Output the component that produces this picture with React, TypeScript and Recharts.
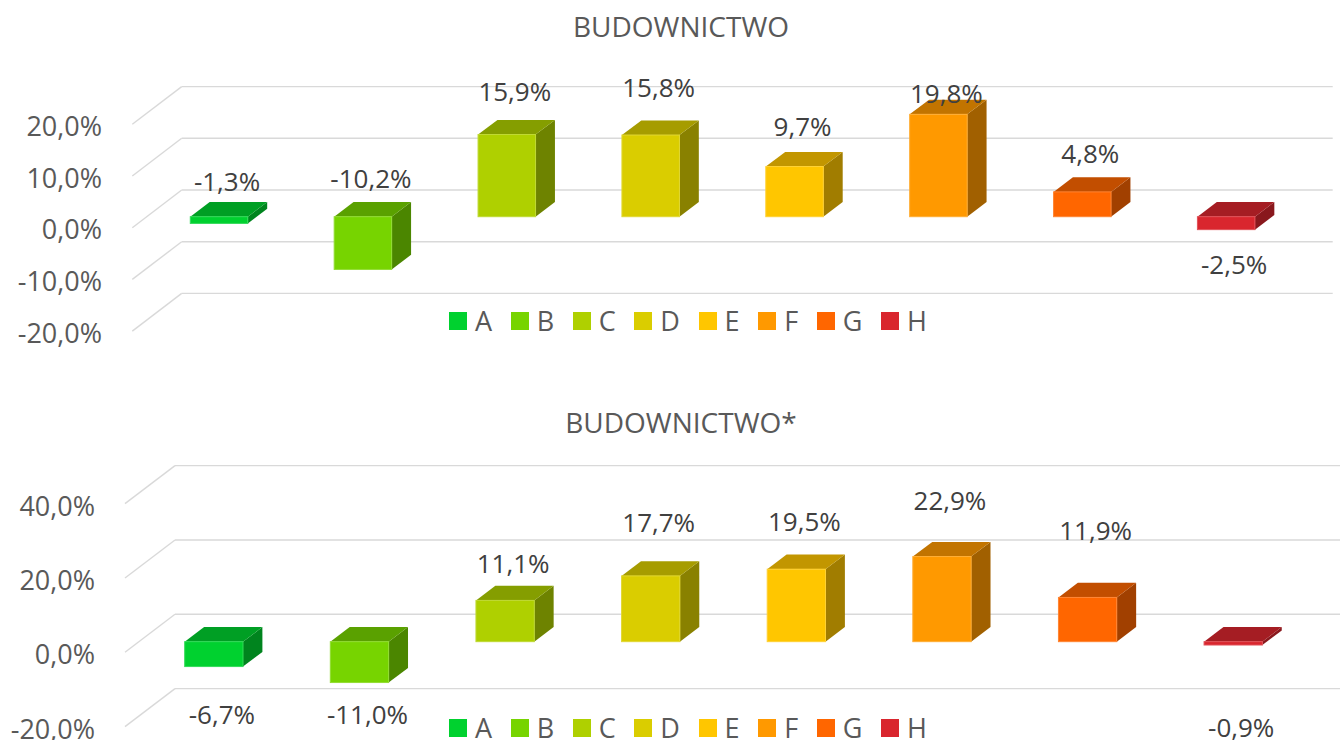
import React from "react";
import { Bar, BarChart, CartesianGrid, Cell, LabelList, Legend, XAxis, YAxis } from "recharts";

const categories = ["A", "B", "C", "D", "E", "F", "G", "H"];
const colors = ["#00D12F", "#77D400", "#AFD000", "#DACD00", "#FFC600", "#FF9900", "#FF6600", "#D9262E"];

const budownictwo = [-1.3, -10.2, 15.9, 15.8, 9.7, 19.8, 4.8, -2.5];
const budownictwoStar = [-6.7, -11.0, 11.1, 17.7, 19.5, 22.9, 11.9, -0.9];

const ticksTop = [-20, -10, 0, 10, 20];
const ticksBottom = [-20, 0, 20, 40];

const FONT = '"Open Sans", "Noto Sans", sans-serif';
const GRID = "#D9D9D9";
const TEXT = "#595959";
const LABEL = "#404040";
const DEPTH_X = 19.4;
const DEPTH_Y = 14.6;

function rgb(hex: string) {
  const n = parseInt(hex.slice(1), 16);
  return [(n >> 16) & 255, (n >> 8) & 255, n & 255];
}
function shade(hex: string, k: number) {
  const [r, g, b] = rgb(hex);
  return `rgb(${Math.round(r * k)},${Math.round(g * k)},${Math.round(b * k)})`;
}
function lighten(hex: string, t: number) {
  const [r, g, b] = rgb(hex);
  const f = (c: number) => Math.round(c + (255 - c) * t);
  return `rgb(${f(r)},${f(g)},${f(b)})`;
}

function Bar3D(props: any) {
  const { x, y, width, height, fill } = props;
  if (x == null || y == null) return null;
  const top = Math.min(y, y + height);
  const h = Math.abs(height);
  const w = width;
  const dx = DEPTH_X;
  const dy = DEPTH_Y;
  const topFace = `${x},${top} ${x + dx},${top - dy} ${x + w + dx},${top - dy} ${x + w},${top}`;
  const side = `${x + w},${top} ${x + w + dx},${top - dy} ${x + w + dx},${top + h - dy} ${x + w},${top + h}`;
  return (
    <g>
      <polygon points={side} fill={shade(fill, 0.63)} />
      <polygon points={topFace} fill={shade(fill, 0.76)} />
      <rect x={x} y={top} width={w} height={h} fill={fill} stroke={lighten(fill, 0.2)} strokeWidth={1} />
    </g>
  );
}

interface PanelProps {
  values: number[];
  ticks: number[];
  height: number;
  margin: { top: number; right: number; bottom: number; left: number };
  axisWidth: number;
  barSize: number;
  wall: [number, number];
  floor: [number, number];
  tickRight: number;
  labelShift: number[];
  legendTop: number;
}

function Panel(p: PanelProps) {
  const data = categories.map((name, i) => ({ name, v: p.values[i] }));
  const fmt = (v: number) => `${v.toFixed(1).replace(".", ",")}%`;

  // back-wall line plus the slanted floor edge on the left
  const gridLine = (g: any) => {
    const bx = g.x1 + p.wall[0];
    const by = g.y1 - p.wall[1];
    return (
      <g key={g.key ?? `gl-${g.index}`}>
        <line x1={bx} y1={by} x2={g.x2 + p.wall[0]} y2={by} stroke={GRID} strokeWidth={1.4} />
        <line x1={bx} y1={by} x2={bx - p.floor[0]} y2={by + p.floor[1]} stroke={GRID} strokeWidth={1.4} />
      </g>
    );
  };

  const tick = (t: any) => (
    <text
      x={p.tickRight}
      y={t.y + 13}
      dy="0.36em"
      textAnchor="end"
      fontFamily={FONT}
      fontSize={27}
      fill={TEXT}
    >
      {fmt(t.payload.value)}
    </text>
  );

  const label = (l: any) => {
    const vb = l.viewBox && l.viewBox.width != null ? l.viewBox : l;
    const i = l.index ?? 0;
    return (
      <text
        x={vb.x + vb.width / 2 + 8}
        y={vb.y + p.labelShift[i]}
        dy="0.36em"
        textAnchor="middle"
        fontFamily={FONT}
        fontSize={26}
        fill={LABEL}
      >
        {fmt(p.values[i])}
      </text>
    );
  };

  const legend = () => (
    <div style={{ display: "flex", alignItems: "center", fontFamily: FONT, fontSize: 27, lineHeight: "22px", color: TEXT }}>
      {categories.map((c, i) => (
        <div key={c} style={{ display: "flex", alignItems: "center", marginRight: 18.6 }}>
          <span style={{ display: "inline-block", width: 18, height: 18, background: colors[i], marginRight: 8 }} />
          <span>{c}</span>
        </div>
      ))}
    </div>
  );

  return (
    <BarChart width={1340} height={p.height} data={data} margin={p.margin}>
      <CartesianGrid vertical={false} horizontal={gridLine} />
      <XAxis dataKey="name" hide />
      <YAxis
        type="number"
        domain={[p.ticks[0], p.ticks[p.ticks.length - 1]]}
        ticks={p.ticks}
        interval={0}
        width={p.axisWidth}
        axisLine={false}
        tickLine={false}
        tick={tick}
      />
      <Legend
        layout="horizontal"
        verticalAlign="middle"
        align="center"
        content={legend}
        wrapperStyle={{ position: "absolute", left: 449, top: p.legendTop, width: 620, height: 22, margin: 0 }}
      />
      <Bar dataKey="v" barSize={p.barSize} shape={Bar3D} isAnimationActive={false}>
        {data.map((d, i) => (
          <Cell key={d.name} fill={colors[i]} />
        ))}
        <LabelList dataKey="v" content={label} />
      </Bar>
    </BarChart>
  );
}

export default function App() {
  return (
    <div style={{ position: "absolute", left: 0, top: 0, width: 1340, height: 740, background: "#fff" }}>
      <Panel
        values={budownictwo}
        ticks={ticksTop}
        height={370}
        margin={{ top: 113.3, right: 41.7, bottom: 49.9, left: 0 }}
        axisWidth={147.3}
        barSize={57.5}
        wall={[34.4, 26.7]}
        floor={[49.4, 37.7]}
        tickRight={102}
        labelShift={[-42, -91, -43, -47, -40, -21, -38, 35]}
        legendTop={310}
      />
      <Panel
        values={budownictwoStar}
        ticks={ticksBottom}
        height={370}
        margin={{ top: 123, right: 34.3, bottom: 24, left: 0 }}
        axisWidth={140.7}
        barSize={58.3}
        wall={[34.3, 27.4]}
        floor={[50, 38]}
        tickRight={95}
        labelShift={[48, 32, -37, -53, -48, -56, -67, 83]}
        legendTop={347}
      />
      <svg width={1340} height={740} style={{ position: "absolute", left: 0, top: 0, pointerEvents: "none" }}>
        <text x={681} y={37} textAnchor="middle" fontFamily={FONT} fontSize={28} fill={TEXT}>
          BUDOWNICTWO
        </text>
        <text x={681} y={433.3} textAnchor="middle" fontFamily={FONT} fontSize={28} fill={TEXT}>
          BUDOWNICTWO*
        </text>
      </svg>
    </div>
  );
}
